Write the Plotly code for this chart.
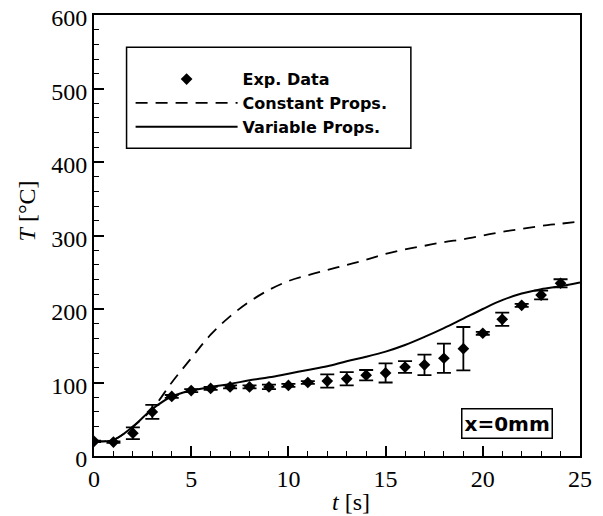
import plotly.graph_objects as go

# Experimental data
exp_t = list(range(0, 25))
exp_T = [20, 19, 31, 60, 81, 89, 92, 94, 94, 94, 96, 100, 102, 105, 110, 113,
         121, 124, 133, 146, 167, 186, 205, 219, 235]
exp_err = [1, 1, 8, 9.5, 2, 2, 2, 2, 2, 3, 2, 2, 9, 9, 7, 13, 8, 14, 20, 29.5,
           2, 9, 2, 6, 5.5]

# Model curves
model_t = list(range(0, 26))
const_T = [20, 22, 40, 64, 100, 133, 165, 190, 210, 226, 238, 246, 253, 260,
           267, 275, 281, 286, 291, 295, 300, 305, 309, 313, 316, 319]
var_T = [20, 22, 40, 64, 81, 89, 94, 98, 103, 107, 112, 117, 122, 129, 135,
         142, 151, 162, 174, 187, 200, 212, 221, 227, 231, 236]

x_ticks = [0, 5, 10, 15, 20, 25]
y_ticks = [0, 100, 200, 300, 400, 500, 600]

fig = go.Figure()
fig.add_trace(go.Scatter(
    x=exp_t, y=exp_T, mode="markers", name="Exp. Data",
    marker=dict(symbol="diamond", size=9, color="black"),
    error_y=dict(type="data", array=exp_err, visible=True, color="black",
                 thickness=1.8, width=7),
))
fig.add_trace(go.Scatter(
    x=model_t, y=const_T, mode="lines", name="Constant Props.",
    line=dict(color="black", width=1.8, dash="12px,8px", shape="spline"),
))
fig.add_trace(go.Scatter(
    x=model_t, y=var_T, mode="lines", name="Variable Props.",
    line=dict(color="black", width=2, shape="spline"),
))

serif = "Liberation Serif, Times New Roman, serif"
sans = "DejaVu Sans, Arial, sans-serif"
axis_font = dict(family=serif, size=24, color="black")

# The page body has an 8px margin; the figure is sized so that the plot
# area lands where the reference has it.
fig.update_layout(
    width=595, height=508,
    margin=dict(l=86, r=23, t=7, b=60),
    paper_bgcolor="white", plot_bgcolor="white",
    showlegend=True,
    legend=dict(
        x=0.0753, y=0.893, xanchor="left", yanchor="top",
        bgcolor="rgba(0,0,0,0)", borderwidth=0,
        font=dict(family=sans, size=16, color="black", weight="bold"),
        itemwidth=102, tracegroupgap=0,
    ),
    shapes=[dict(type="rect", xref="paper", yref="paper",
                 x0=0.067, x1=0.652, y0=0.698, y1=0.927,
                 line=dict(color="black", width=1.5), fillcolor="rgba(0,0,0,0)")],
    annotations=[
        dict(text="<b>x=0mm</b>", xref="paper", yref="paper", x=0.85, y=0.0726,
             xanchor="center", yanchor="middle", showarrow=False,
             font=dict(family=sans, size=20, color="black"),
             bordercolor="black", borderwidth=1.5, borderpad=2, bgcolor="white"),
        dict(text="<i>T</i> [°C]", xref="paper", yref="paper", x=-0.137, y=0.5556,
             xanchor="center", yanchor="middle", showarrow=False, textangle=-90,
             font=axis_font),
        dict(text="<i>t</i> [s]", xref="paper", yref="paper", x=0.529, y=-0.104,
             xanchor="center", yanchor="middle", showarrow=False,
             font=axis_font),
    ],
)

fig.update_xaxes(
    range=[0, 25], tickvals=x_ticks, ticktext=[str(v) for v in x_ticks],
    ticks="inside", ticklen=10, tickwidth=1.5, tickcolor="black",
    minor=dict(dtick=1, ticks="inside", ticklen=5, tickwidth=1, tickcolor="black"),
    showline=True, linecolor="black", linewidth=2, mirror=True,
    showgrid=False, zeroline=False, automargin=False,
    tickfont=axis_font, ticklabeloverflow="allow",
)
fig.update_yaxes(
    range=[0, 600], tickvals=y_ticks, ticktext=[str(v) for v in y_ticks],
    ticks="inside", ticklen=10, tickwidth=1.5, tickcolor="black",
    minor=dict(dtick=20, ticks="inside", ticklen=5, tickwidth=1, tickcolor="black"),
    showline=True, linecolor="black", linewidth=2, mirror=True,
    showgrid=False, zeroline=False, automargin=False,
    tickfont=axis_font, ticklabeloverflow="allow", ticklabelshift=3,
)

fig.write_html("out.html")
